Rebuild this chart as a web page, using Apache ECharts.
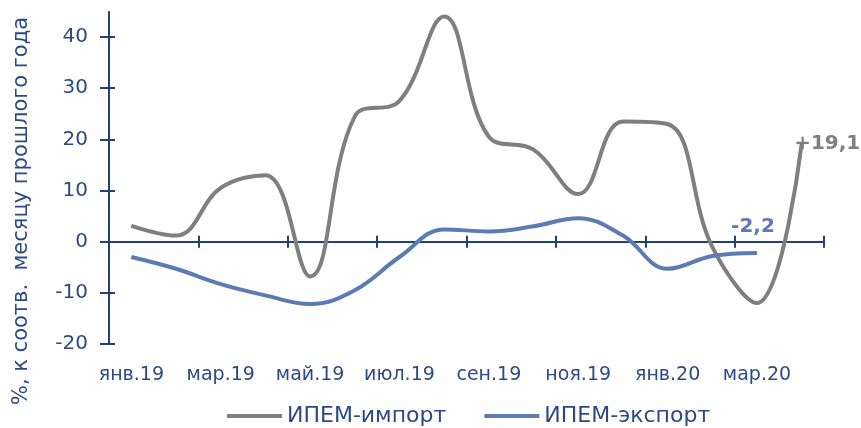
<!DOCTYPE html>
<html>
<head>
<meta charset="utf-8">
<script src="https://cdn.jsdelivr.net/npm/echarts@6/dist/echarts.min.js"></script>
<style>
  html, body { margin: 0; padding: 0; background: #fff; }
  #chart { width: 861px; height: 428px; }
</style>
</head>
<body>
<div id="chart"></div>
<script>
// months, jan 2019 - apr 2020
const months = ['янв.19', 'фев.19', 'мар.19', 'апр.19', 'май.19', 'июн.19', 'июл.19', 'авг.19',
  'сен.19', 'окт.19', 'ноя.19', 'дек.19', 'янв.20', 'фев.20', 'мар.20', 'апр.20'];
// % к соотв. месяцу прошлого года
const importVals = [3.1, 1.2, 10.5, 13, -6.8, 24.5, 27.5, 44, 20.5, 18, 9.3, 23.5, 23, -1, -12, 19.1];
const exportVals = [-3, -5.3, -8.3, -10.5, -12.2, -9.5, -3, 2.4, 2.0, 3.0, 4.6, 1.2, -5.3, -2.8, -2.2];

const axisColor = '#1f4279';
const textColor = '#2b4a85';
const grayLine = '#7f7f7f';
const blueLine = '#5b7bb5';
const font = 'DejaVu Sans, Liberation Sans, sans-serif';

const fmt = v => (v > 0 ? '+' : '') + v.toFixed(1).replace('.', ',');

// put a label only on the last point of each series
function withLastLabel(vals, label) {
  return vals.map((v, i) => i === vals.length - 1 ? { value: v, label: label } : v);
}

const chart = echarts.init(document.getElementById('chart'), null, { renderer: 'canvas' });

const yBase = { type: 'value', gridIndex: 0, min: -20, max: 40, interval: 10, position: 'left', splitLine: { show: false } };
const hidden = 'rgba(0,0,0,0)';

chart.setOption({
  animation: false,
  textStyle: { fontFamily: font },
  grid: [
    { left: 109, right: 37, top: 37, bottom: 84 },
    // small strip above: only continues the y axis line past 40
    { left: 109, right: 37, top: 12, height: 25 }
  ],
  legend: {
    left: 222, top: 400,
    itemWidth: 55, itemHeight: 4, itemGap: 38,
    icon: 'rect',
    textStyle: { color: textColor, fontSize: 22, fontFamily: font },
    data: ['ИПЕМ-импорт', 'ИПЕМ-экспорт']
  },
  xAxis: [
    { // axis line at zero, ticks going down
      type: 'category', gridIndex: 0, data: months, boundaryGap: true, position: 'bottom',
      axisLine: { show: true, onZero: true, onZeroAxisIndex: 0, lineStyle: { color: axisColor, width: 2 } },
      axisTick: { show: true, interval: 1, length: 6, lineStyle: { color: axisColor, width: 2 } },
      axisLabel: { show: false, interval: 1 }
    },
    { // same line, ticks going up
      type: 'category', gridIndex: 0, data: months, boundaryGap: true, position: 'bottom',
      axisLine: { show: true, onZero: true, onZeroAxisIndex: 0, lineStyle: { color: hidden } },
      axisTick: { show: true, interval: 1, inside: true, length: 6, lineStyle: { color: axisColor, width: 2 } },
      axisLabel: { show: false, interval: 1 }
    },
    { // labels at the bottom of the plot
      type: 'category', gridIndex: 0, data: months, boundaryGap: true, position: 'bottom',
      axisLine: { show: false, onZero: false },
      axisTick: { show: false },
      axisLabel: { interval: 1, margin: 22, color: textColor, fontSize: 19, fontFamily: font }
    },
    { type: 'category', gridIndex: 1, data: months, show: false }
  ],
  yAxis: [
    Object.assign({}, yBase, {
      name: '%, к соотв.  месяцу прошлого года',
      nameLocation: 'middle', nameGap: 77,
      nameTextStyle: { color: textColor, fontSize: 21, fontFamily: font, padding: [0, 41, 0, 0] },
      axisLine: { show: true, lineStyle: { color: axisColor, width: 2 } },
      axisTick: { show: true, length: 9, lineStyle: { color: axisColor, width: 2 } },
      axisLabel: { margin: 21, color: textColor, fontSize: 20, fontFamily: font }
    }),
    Object.assign({}, yBase, {
      axisLine: { show: true, lineStyle: { color: hidden } },
      axisTick: { show: true, inside: true, length: 6, lineStyle: { color: axisColor, width: 2 } },
      axisLabel: { show: false }
    }),
    {
      type: 'value', gridIndex: 1, min: 40, max: 45, position: 'left',
      axisLine: { show: true, lineStyle: { color: axisColor, width: 2 } },
      axisTick: { show: false }, axisLabel: { show: false }, splitLine: { show: false }
    }
  ],
  series: [
    {
      name: 'ИПЕМ-импорт', type: 'line', smooth: 0.4, clip: false,
      symbol: 'circle', symbolSize: 1, showAllSymbol: true,
      xAxisIndex: 0, yAxisIndex: 0,
      lineStyle: { color: grayLine, width: 4 }, itemStyle: { color: grayLine },
      data: withLastLabel(importVals, {
        show: true, position: 'right', offset: [-13, 0],
        formatter: p => fmt(p.value),
        color: grayLine, fontSize: 20, fontWeight: 'bold', fontFamily: font
      })
    },
    {
      name: 'ИПЕМ-экспорт', type: 'line', smooth: 0.4, clip: false,
      symbol: 'circle', symbolSize: 1, showAllSymbol: true,
      xAxisIndex: 0, yAxisIndex: 0,
      lineStyle: { color: blueLine, width: 4 }, itemStyle: { color: blueLine },
      data: withLastLabel(exportVals, {
        show: true, position: 'top', offset: [-4, -11],
        formatter: p => fmt(p.value),
        color: blueLine, fontSize: 20, fontWeight: 'bold', fontFamily: font
      })
    }
  ]
});
</script>
</body>
</html>
